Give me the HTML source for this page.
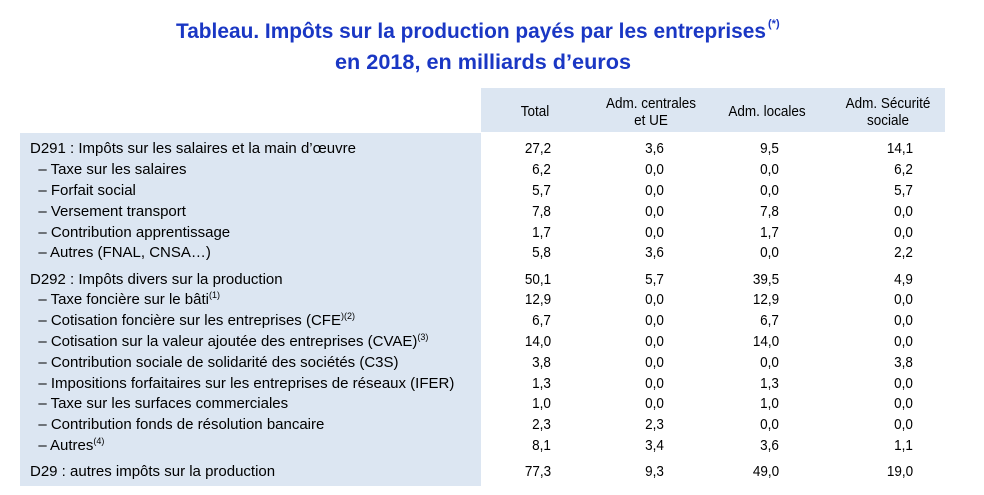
<!DOCTYPE html>
<html><head><meta charset="utf-8">
<style>
html,body{margin:0;padding:0;background:#fff;}
body{width:984px;height:495px;position:relative;overflow:hidden;font-family:"Liberation Sans",sans-serif;color:#000;}
.shade{position:absolute;background:#dce6f2;}
.lbl{position:absolute;font-size:15px;white-space:nowrap;transform:scaleX(1.0);transform-origin:left center;line-height:18px;}
.num{position:absolute;font-size:15px;white-space:nowrap;transform:scaleX(0.9);transform-origin:right center;line-height:18px;text-align:right;}
.hdr{position:absolute;font-size:15px;text-align:center;line-height:17px;transform:scaleX(0.9);}
sup{font-size:9px;vertical-align:6px;line-height:0;}
</style></head>
<body>
<svg style="position:absolute;left:0;top:0" width="984" height="80">
 <text x="176" y="38" textLength="590" lengthAdjust="spacingAndGlyphs" font-family="Liberation Sans" font-weight="bold" font-size="21" fill="#1a37c4">Tableau. Impôts sur la production payés par les entreprises</text>
 <text x="768" y="27" font-family="Liberation Sans" font-weight="bold" font-size="11" fill="#1a37c4">(*)</text>
 <text x="335" y="69" textLength="296" lengthAdjust="spacingAndGlyphs" font-family="Liberation Sans" font-weight="bold" font-size="21" fill="#1a37c4">en 2018, en milliards d’euros</text>
</svg>
<div class="shade" style="left:481px;top:88px;width:464px;height:44px"></div>
<div class="shade" style="left:20px;top:133px;width:461px;height:353px"></div>
<div class="hdr" style="left:495px;top:103px;width:80px">Total</div>
<div class="hdr" style="left:586px;top:95px;width:130px">Adm. centrales<br>et UE</div>
<div class="hdr" style="left:702px;top:103px;width:130px">Adm. locales</div>
<div class="hdr" style="left:823px;top:95px;width:130px">Adm. Sécurité<br>sociale</div>
<div id="rows"></div>
<script>
const labels=["D291 : Impôts sur les salaires et la main d’œuvre","&nbsp;&nbsp;– Taxe sur les salaires","&nbsp;&nbsp;– Forfait social","&nbsp;&nbsp;– Versement transport","&nbsp;&nbsp;– Contribution apprentissage","&nbsp;&nbsp;– Autres (FNAL, CNSA…)","D292 : Impôts divers sur la production","&nbsp;&nbsp;– Taxe foncière sur le bâti<sup>(1)</sup>","&nbsp;&nbsp;– Cotisation foncière sur les entreprises (CFE<sup>)(2)</sup>","&nbsp;&nbsp;– Cotisation sur la valeur ajoutée des entreprises (CVAE)<sup>(3)</sup>","&nbsp;&nbsp;– Contribution sociale de solidarité des sociétés (C3S)","&nbsp;&nbsp;– Impositions forfaitaires sur les entreprises de réseaux (IFER)","&nbsp;&nbsp;– Taxe sur les surfaces commerciales","&nbsp;&nbsp;– Contribution fonds de résolution bancaire","&nbsp;&nbsp;– Autres<sup>(4)</sup>","D29 : autres impôts sur la production"];
const total=["27,2","6,2","5,7","7,8","1,7","5,8","50,1","12,9","6,7","14,0","3,8","1,3","1,0","2,3","8,1","77,3"];
const centrales=["3,6","0,0","0,0","0,0","0,0","3,6","5,7","0,0","0,0","0,0","0,0","0,0","0,0","2,3","3,4","9,3"];
const locales=["9,5","0,0","0,0","7,8","1,7","0,0","39,5","12,9","6,7","14,0","0,0","1,3","1,0","0,0","3,6","49,0"];
const secu=["14,1","6,2","5,7","0,0","0,0","2,2","4,9","0,0","0,0","0,0","3,8","0,0","0,0","0,0","1,1","19,0"];
const ys=[149,170,191,212,233,253,280,300,321,342,363,384,404,425,446,472];
const root=document.getElementById('rows');
const cols=[[total,551,'total'],[centrales,664,'adm-centrales'],[locales,779,'adm-locales'],[secu,913,'adm-securite-sociale']];
labels.forEach((l,i)=>{
  const d=document.createElement('div');
  d.className='lbl';
  
  
  d.style.left='30px';d.style.top=(ys[i]-9)+'px';
  d.innerHTML=l;
  root.appendChild(d);
  cols.forEach(c=>{
    const n=document.createElement('div');
    n.className='num';
    
    
    n.style.right=(984-c[1])+'px';n.style.top=(ys[i]-9)+'px';
    n.textContent=c[0][i];
    root.appendChild(n);
  });
});
</script>
</body></html>
